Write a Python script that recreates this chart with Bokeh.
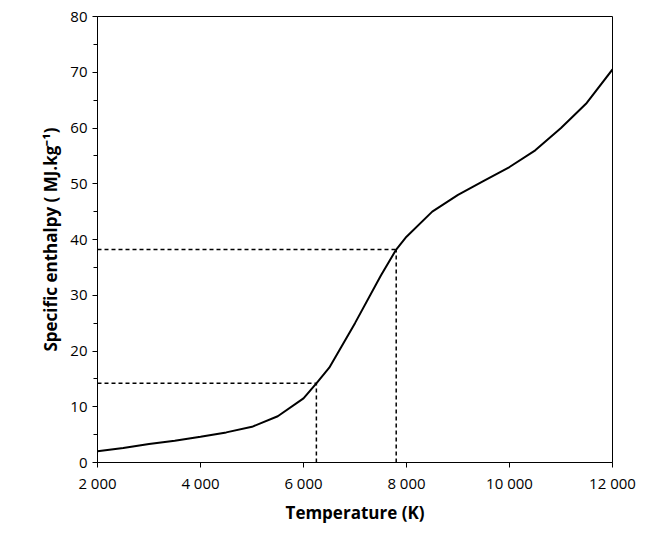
from bokeh.plotting import figure
from bokeh.models import FixedTicker, Range1d
from bokeh.embed import file_html
from bokeh.resources import INLINE

# Curve values
temperature = [2000, 2500, 3000, 3500, 4000, 4500, 5000, 5500, 6000, 6250, 6500,
               7000, 7500, 7800, 8000, 8500, 9000, 9500, 10000, 10500, 11000, 11500, 12000]
enthalpy = [2.0, 2.6, 3.3, 3.9, 4.6, 5.4, 6.4, 8.3, 11.5, 14.2, 17.0,
            25.0, 33.5, 38.2, 40.5, 45.0, 48.0, 50.5, 53.0, 56.0, 60.0, 64.5, 70.5]

# Dashed guide points
guide_t = [6250, 7800]
guide_h = [14.2, 38.2]

x_ticks = [2000, 4000, 6000, 8000, 10000, 12000]
x_labels = ["2 000", "4 000", "6 000", "8 000", "10 000", "12 000"]
y_ticks = [0, 10, 20, 30, 40, 50, 60, 70, 80]

p = figure(width=644, height=528, output_backend="svg", toolbar_location=None,
           x_range=Range1d(2000, 12000), y_range=Range1d(0, 80),
           min_border_left=97, min_border_right=32, min_border_top=16, min_border_bottom=66)

p.line(temperature, enthalpy, line_color="black", line_width=2)

for t, h in zip(guide_t, guide_h):
    p.line([2000, t], [h, h], line_color="black", line_width=1.5, line_dash="4 3")
    p.line([t, t], [0, h], line_color="black", line_width=1.5, line_dash="4 3")

p.xgrid.visible = False
p.ygrid.visible = False
p.outline_line_color = "black"
p.outline_line_width = 1

p.xaxis.ticker = FixedTicker(ticks=x_ticks)
p.xaxis.major_label_overrides = {t: l for t, l in zip(x_ticks, x_labels)}
p.yaxis.ticker = FixedTicker(ticks=y_ticks, minor_ticks=list(range(5, 80, 10)))

for ax in (p.xaxis, p.yaxis):
    ax.axis_line_color = "black"
    ax.major_tick_line_color = "black"
    ax.major_label_text_font = "Open Sans"
    ax.major_label_text_font_size = "15px"
    ax.major_label_text_color = "black"
    ax.axis_label_text_font = "Open Sans"
    ax.axis_label_text_font_style = "bold"
    ax.axis_label_text_font_size = "17px"
    ax.axis_label_text_color = "black"
    ax.major_tick_out = 5
    ax.major_tick_in = 0
p.xaxis.minor_tick_line_color = None
p.yaxis.minor_tick_out = 4
p.yaxis.minor_tick_in = 0
p.yaxis.minor_tick_line_color = "black"

p.xaxis.axis_label = "Temperature (K)"
p.yaxis.axis_label = "Specific enthalpy ( MJ.kg\u207b\u00b9)"

open("out.html", "w").write(file_html(p, INLINE))
